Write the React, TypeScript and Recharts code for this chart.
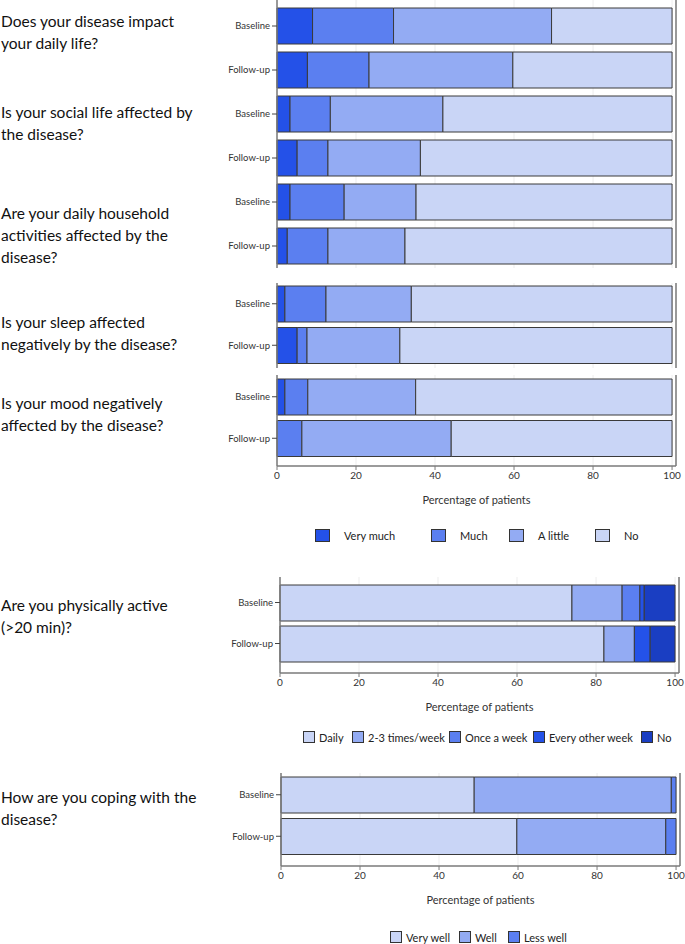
import React from 'react';
import { BarChart, Bar, XAxis, YAxis, CartesianGrid, ReferenceLine } from 'recharts';

// ---------- data ----------
const timepoints = ['Baseline', 'Follow-up'];

const impactQuestions = [
  ['Does your disease impact', 'your daily life?'],
  ['Is your social life affected by', 'the disease?'],
  ['Are your daily household', 'activities affected by the', 'disease?'],
  ['Is your sleep affected', 'negatively by the disease?'],
  ['Is your mood negatively', 'affected by the disease?'],
];
const impactLevels = ['Very much', 'Much', 'A little', 'No'];
// rows: Q1 base, Q1 fu, Q2 base, Q2 fu, ... Q5 fu
const impactVeryMuch = [9.0, 7.7, 3.3, 5.1, 3.3, 2.6, 2.0, 5.1, 2.0, 0];
const impactMuch = [20.5, 15.6, 10.2, 7.8, 13.7, 10.3, 10.4, 2.5, 5.8, 6.3];
const impactALittle = [40.0, 36.4, 28.5, 23.4, 18.2, 19.5, 21.6, 23.5, 27.3, 37.8];
const impactNo = [30.5, 40.3, 58.0, 63.7, 64.8, 67.6, 66.0, 68.9, 64.9, 55.9];

const activityQuestion = ['Are you physically active', '(>20 min)?'];
const activityLevels = ['Daily', '2-3 times/week', 'Once a week', 'Every other week', 'No'];
const activityDaily = [73.9, 82.0];
const activityTwoThree = [12.7, 7.7];
const activityOnceWeek = [4.5, 0];
const activityEveryOther = [1.1, 4.0];
const activityNo = [7.8, 6.3];

const copingQuestion = ['How are you coping with the', 'disease?'];
const copingLevels = ['Very well', 'Well', 'Less well'];
const copingVeryWell = [48.9, 59.7];
const copingWell = [49.9, 37.7];
const copingLessWell = [1.2, 2.6];

const xTicks = [0, 20, 40, 60, 80, 100];
const xAxisTitle = 'Percentage of patients';

// ---------- styles ----------
const FONT = 'Lato, "Open Sans", sans-serif';
const impactColors = ['#2451e8', '#5b7ff0', '#93abf3', '#c9d5f6'];
const activityColors = ['#c9d5f6', '#93abf3', '#5b7ff0', '#2452e8', '#1a3ec2'];
const copingColors = ['#c9d5f6', '#93abf3', '#5b7ff0'];
const BAR_STROKE = '#3a3a3a';
const AXIS = '#7a7a7a';

type Row = { [k: string]: number | string };

function buildRows(prefix: string, series: number[][], start: number, count: number): Row[] {
  const rows: Row[] = [];
  for (let i = start; i < start + count; i++) {
    const r: Row = { key: `${prefix}-${i}`, label: timepoints[i % 2] };
    series.forEach((s, j) => {
      r[`s${j}`] = s[i];
    });
    rows.push(r);
  }
  return rows;
}

const impactSeries = [impactVeryMuch, impactMuch, impactALittle, impactNo];
const activitySeries = [activityDaily, activityTwoThree, activityOnceWeek, activityEveryOther, activityNo];
const copingSeries = [copingVeryWell, copingWell, copingLessWell];

type PanelProps = {
  rows: Row[];
  nSeries: number;
  colors: string[];
  top: number;
  plotHeight: number;
  plotLeft: number;
  plotRight: number;
  padTop: number;
  padBottom: number;
  showX: boolean;
};

function Panel({ rows, nSeries, colors, top, plotHeight, plotLeft, plotRight, padTop, padBottom, showX }: PanelProps) {
  const xH = 44;
  const height = plotHeight + (showX ? xH : 0);
  const labelMap: Record<string, string> = {};
  rows.forEach((r) => (labelMap[r.key as string] = r.label as string));
  return (
    <div style={{ position: 'absolute', left: 0, top }}>
      <BarChart
        width={685}
        height={height}
        data={rows}
        layout="vertical"
        margin={{ top: 0, right: 685 - plotRight, bottom: 0, left: 0 }}
        barSize={36}
      >
        <CartesianGrid horizontal={false} stroke="#ededed" />
        <XAxis
          type="number"
          domain={[0, 101]}
          ticks={xTicks}
          hide={!showX}
          height={xH}
          axisLine={{ stroke: AXIS, strokeWidth: 1.5 }}
          tickLine={{ stroke: AXIS }}
          tickSize={4}
          tick={{ fontSize: 10, fill: '#333', fontFamily: FONT }}
          label={
            showX
              ? { value: xAxisTitle, position: 'insideBottom', offset: 6, fontSize: 11, fill: '#333', fontFamily: FONT }
              : undefined
          }
        />
        <YAxis
          type="category"
          dataKey="key"
          width={plotLeft}
          padding={{ top: padTop, bottom: padBottom }}
          tickFormatter={(v: string) => labelMap[v]}
          axisLine={{ stroke: AXIS, strokeWidth: 1.5 }}
          tickLine={{ stroke: '#444' }}
          tickSize={5}
          tick={{ fontSize: 9.5, fill: '#333', fontFamily: FONT }}
        />
        <ReferenceLine x={101} stroke={AXIS} strokeWidth={1.5} />
        {Array.from({ length: nSeries }).map((_, j) => (
          <Bar
            key={j}
            dataKey={`s${j}`}
            stackId="a"
            fill={colors[j]}
            stroke={BAR_STROKE}
            strokeWidth={1}
            isAnimationActive={false}
          />
        ))}
      </BarChart>
    </div>
  );
}

function Question({ lines, centerY }: { lines: string[]; centerY: number }) {
  const lh = 22.3;
  return (
    <div
      style={{
        position: 'absolute',
        left: 1,
        top: centerY - lh / 2,
        fontFamily: FONT,
        fontSize: 15.5,
        lineHeight: `${lh}px`,
        color: '#111',
        whiteSpace: 'nowrap',
      }}
    >
      {lines.map((l, i) => (
        <div key={i}>{l}</div>
      ))}
    </div>
  );
}

function LegendRow({
  labels,
  colors,
  xs,
  centerY,
  sw,
  sh,
  gap,
}: {
  labels: string[];
  colors: string[];
  xs: number[];
  centerY: number;
  sw: number;
  sh: number;
  gap: number;
}) {
  return (
    <>
      {labels.map((l, i) => (
        <div
          key={l}
          style={{
            position: 'absolute',
            left: xs[i],
            top: centerY - 8,
            height: 16,
            display: 'flex',
            alignItems: 'center',
            fontFamily: FONT,
            fontSize: 11,
            color: '#222',
            whiteSpace: 'nowrap',
          }}
        >
          <span
            style={{
              display: 'inline-block',
              width: sw,
              height: sh,
              boxSizing: 'border-box',
              background: colors[i],
              border: '1.5px solid #333',
              marginRight: gap,
            }}
          />
          {l}
        </div>
      ))}
    </>
  );
}

export default function App() {
  const impactRows = buildRows('imp', impactSeries, 0, 10);
  const activityRows = buildRows('act', activitySeries, 0, 2);
  const copingRows = buildRows('cop', copingSeries, 0, 2);
  return (
    <div style={{ position: 'absolute', left: 0, top: 0, width: 685, height: 944, background: '#fff', overflow: 'hidden' }}>
      <Question lines={impactQuestions[0]} centerY={21} />
      <Question lines={impactQuestions[1]} centerY={112} />
      <Question lines={impactQuestions[2]} centerY={213} />
      <Question lines={impactQuestions[3]} centerY={322} />
      <Question lines={impactQuestions[4]} centerY={403} />
      <Question lines={activityQuestion} centerY={605} />
      <Question lines={copingQuestion} centerY={797} />

      <Panel rows={impactRows.slice(0, 6)} nSeries={4} colors={impactColors} top={0} plotHeight={268} plotLeft={277} plotRight={676} padTop={4} padBottom={0} showX={false} />
      <Panel rows={impactRows.slice(6, 8)} nSeries={4} colors={impactColors} top={283} plotHeight={85} plotLeft={277} plotRight={676} padTop={0} padBottom={2} showX={false} />
      <Panel rows={impactRows.slice(8, 10)} nSeries={4} colors={impactColors} top={375} plotHeight={91} plotLeft={277} plotRight={676} padTop={1} padBottom={7} showX={true} />
      <LegendRow labels={impactLevels} colors={impactColors} xs={[315, 431, 509, 595]} centerY={535} sw={15} sh={13} gap={14} />

      <Panel rows={activityRows} nSeries={5} colors={activityColors} top={577} plotHeight={96} plotLeft={280} plotRight={679} padTop={5} padBottom={9} showX={true} />
      <LegendRow labels={activityLevels} colors={activityColors} xs={[303, 352, 449, 533, 641]} centerY={737} sw={12} sh={12} gap={4} />

      <Panel rows={copingRows} nSeries={3} colors={copingColors} top={773} plotHeight={93} plotLeft={281} plotRight={680} padTop={1} padBottom={9} showX={true} />
      <LegendRow labels={copingLevels} colors={copingColors} xs={[390, 459, 508]} centerY={937} sw={12} sh={12} gap={4} />
    </div>
  );
}
